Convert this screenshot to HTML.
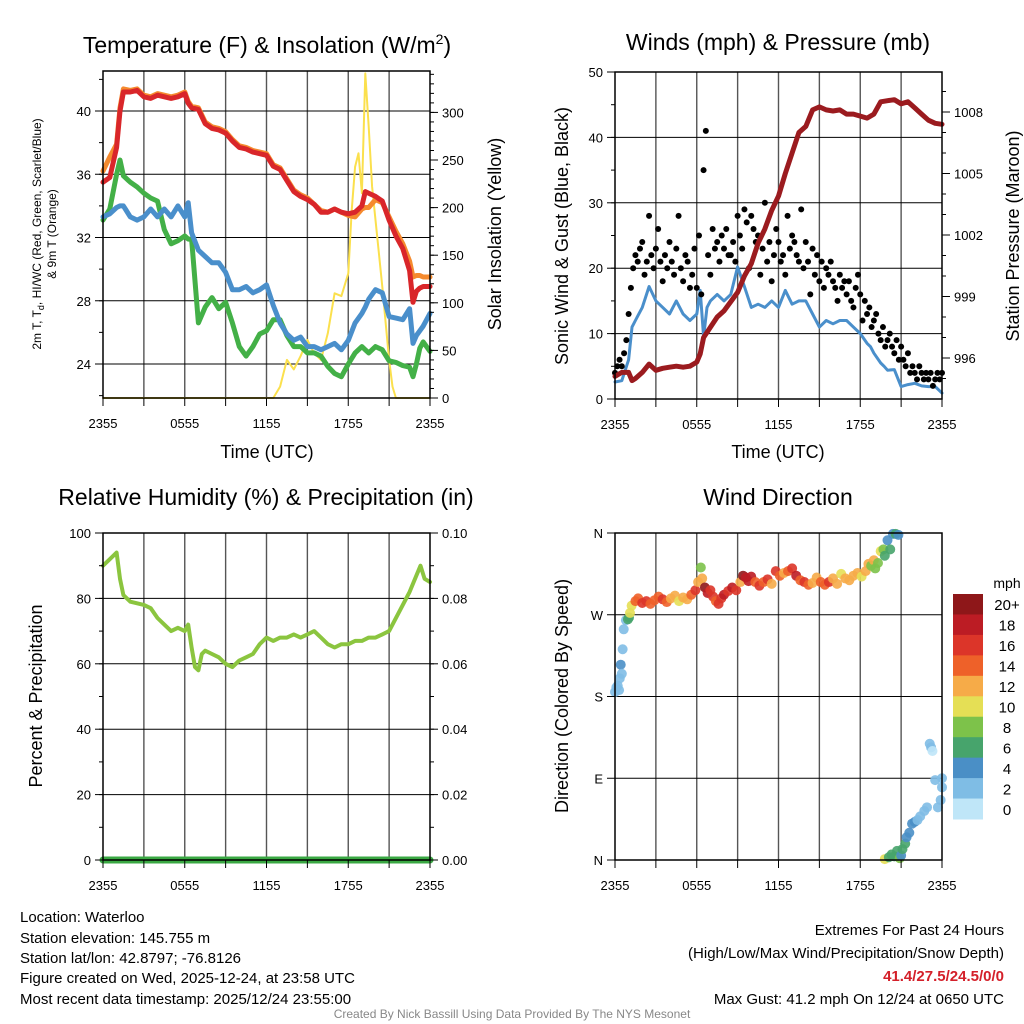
<!DOCTYPE html>
<html><head><meta charset="utf-8"><style>
html,body{margin:0;padding:0;background:#fff;}
svg{display:block;font-family:"Liberation Sans",sans-serif;}
</style></head><body>
<svg id="fig" width="1024" height="1024" viewBox="0 0 1024 1024" xmlns="http://www.w3.org/2000/svg">
<rect width="1024" height="1024" fill="#fff"/>
<g id="grids"></g>
<g id="marks"></g>
<g id="axes"></g>
<text x="267" y="53" font-size="23" text-anchor="middle">Temperature (F) &amp; Insolation (W/m<tspan font-size="14" dy="-9">2</tspan><tspan dy="9">)</tspan></text>
<text x="778" y="50" font-size="23" text-anchor="middle">Winds (mph) &amp; Pressure (mb)</text>
<text x="266" y="505" font-size="23" text-anchor="middle">Relative Humidity (%) &amp; Precipitation (in)</text>
<text x="778" y="505" font-size="23" text-anchor="middle">Wind Direction</text>
<text transform="translate(41,234) rotate(-90)" font-size="12" text-anchor="middle">2m T, T<tspan font-size="9" dy="3">d</tspan><tspan dy="-3">, HI/WC (Red, Green, Scarlet/Blue)</tspan></text>
<text transform="translate(56,234) rotate(-90)" font-size="12" text-anchor="middle">&amp; 9m T (Orange)</text>
<text transform="translate(501,234) rotate(-90)" font-size="18" text-anchor="middle">Solar Insolation (Yellow)</text>
<text x="267" y="458" font-size="18" text-anchor="middle">Time (UTC)</text>
<text transform="translate(568,236) rotate(-90)" font-size="18" text-anchor="middle">Sonic Wind &amp; Gust (Blue, Black)</text>
<text transform="translate(1019,236) rotate(-90)" font-size="18" text-anchor="middle">Station Pressure (Maroon)</text>
<text x="778" y="458" font-size="18" text-anchor="middle">Time (UTC)</text>
<text transform="translate(42,696) rotate(-90)" font-size="18" text-anchor="middle">Percent &amp; Precipitation</text>
<text transform="translate(568,696) rotate(-90)" font-size="18" text-anchor="middle">Direction (Colored By Speed)</text>
<text x="1007" y="588" font-size="14" text-anchor="middle">mph</text>
<g font-size="15">
<text x="20" y="922">Location: Waterloo</text>
<text x="20" y="943">Station elevation: 145.755 m</text>
<text x="20" y="963">Station lat/lon: 42.8797; -76.8126</text>
<text x="20" y="983">Figure created on Wed, 2025-12-24, at 23:58 UTC</text>
<text x="20" y="1004">Most recent data timestamp: 2025/12/24 23:55:00</text>
</g>
<g font-size="15" text-anchor="end">
<text x="1004" y="935">Extremes For Past 24 Hours</text>
<text x="1004" y="958">(High/Low/Max Wind/Precipitation/Snow Depth)</text>
<text x="1004" y="981" fill="#d4202a" font-weight="bold">41.4/27.5/24.5/0/0</text>
<text x="1004" y="1004">Max Gust: 41.2 mph On 12/24 at 0650 UTC</text>
</g>
<text x="512" y="1018" font-size="12" fill="#888" text-anchor="middle">Created By Nick Bassill Using Data Provided By The NYS Mesonet</text>
</svg>
<script>
// ---- data (hours since 2355 UTC) ----
const hrs = [0,0.5,1,1.25,1.5,2,2.5,3,3.5,4,4.5,5,5.5,6,6.25,6.5,7,7.5,8,8.5,9,9.5,10,10.5,11,11.5,12,12.5,13,13.5,14,14.5,15,15.5,16,16.5,17,17.5,18,18.5,19,19.25,19.5,20,20.5,21,21.5,22,22.5,22.75,23,23.25,23.5,24];
const tempRed = [35.5,35.8,37.7,40.0,41.2,41.2,41.3,40.9,40.8,41.0,40.9,40.8,40.9,41.1,40.5,40.2,40.1,39.2,38.9,38.8,38.6,38.1,37.7,37.6,37.4,37.3,37.2,36.5,36.3,35.6,34.9,34.6,34.4,34.1,33.6,33.6,33.8,33.6,33.5,33.6,34.0,34.9,34.8,34.6,34.3,33.1,32.1,31.3,29.9,27.9,28.6,28.8,28.9,28.9];
const tempOrange = [36.2,37.1,37.9,40.2,41.4,41.3,41.4,41.0,40.9,41.1,41.0,40.9,41.0,41.2,40.6,40.3,40.2,39.3,39.0,38.9,38.7,38.2,37.8,37.7,37.5,37.4,37.3,36.6,36.4,35.7,35.0,34.7,34.5,34.1,33.7,33.6,33.8,33.6,33.4,33.3,33.8,33.9,33.9,34.4,34.2,33.3,32.4,31.6,30.5,29.5,29.6,29.6,29.5,29.5];
const tempGreen = [33.1,33.8,36.0,36.9,35.9,35.5,35.2,34.8,34.5,34.3,32.5,31.6,31.8,32.1,31.9,31.9,26.6,27.6,28.2,27.5,27.9,26.6,25.1,24.5,25.1,25.9,26.1,26.8,26.8,25.8,25.1,25.1,24.7,24.7,24.5,23.85,23.4,23.2,24.0,24.7,25.1,24.9,24.7,25.1,24.9,24.2,24.1,23.9,23.8,23.2,24.0,25.0,25.4,24.8];
const tempBlue = [33.3,33.5,33.9,34.0,34.0,33.3,33.1,33.3,33.8,33.3,33.8,33.3,34.0,33.3,34.2,32.3,31.2,30.8,30.4,30.4,29.8,28.7,28.7,28.9,28.5,28.7,29.0,27.7,26.6,25.9,25.5,25.7,25.1,25.1,24.9,25.1,25.3,24.9,25.5,26.6,27.2,27.6,28.1,28.7,28.5,27.0,26.9,26.8,27.5,25.3,25.8,26.1,26.4,27.2];
const solarHrs = [0,12.5,13,13.5,14,14.5,15,15.5,16,16.5,17,17.5,18,18.25,18.5,18.75,19,19.25,19.5,19.75,20,20.5,21,21.25,21.5,24];
const solarW = [0,0,12,40,30,44,61,47,40,68,110,107,131,197,243,257,215,341,285,222,187,117,40,12,0,0];
const windSonic = [2.6,2.8,6,11,12,14,17.2,15,14,13,15,13,12,13,16.6,9.5,14,15,16,15,16,20.2,17.2,14,14.5,14,15,14,16.6,14.5,15,15,13,11,12,11.5,12,12,11,10,8.5,8,7,5.5,5,4.4,4.5,1.9,2.2,2.4,2.0,1.9,1.9,0.9];
const windHrs = [0,0.5,1,1.25,1.5,2,2.5,3,3.5,4,4.5,5,5.5,6,6.25,6.5,6.75,7,7.5,8,8.5,9,9.5,10,10.5,11,11.5,12,12.5,13,13.5,14,14.5,15,15.5,16,16.5,17,17.5,18,18.5,18.75,19,19.5,19.75,20,20.5,21,21.5,22,22.5,23,23.5,24];
const pressHrs = [0,0.5,1,1.25,1.5,2,2.5,3,3.5,4,4.5,5,5.5,6,6.25,6.5,7,7.5,8,8.5,9,9.5,10,10.5,11,11.5,12,12.5,13,13.5,14,14.5,15,15.5,16,16.5,17,17.5,18,18.5,19,19.5,20,20.5,21,21.5,22,22.5,23,23.5,24];
const pressMb = [995.1,995.3,995.3,994.9,995.0,995.3,995.7,995.4,995.5,995.55,995.6,995.55,995.6,995.8,996.2,997.0,997.5,998.0,998.3,998.75,999.2,1000.0,1000.6,1001.6,1002.3,1003.2,1003.9,1005.0,1006.0,1007.0,1007.3,1008.1,1008.25,1008.1,1008.05,1008.1,1007.9,1007.9,1007.8,1007.7,1007.9,1008.5,1008.55,1008.6,1008.4,1008.5,1008.2,1007.9,1007.6,1007.45,1007.4];
const gust = [4,5,6,5,7,9, 13,17,20,22,21,23, 24,19,21,28,22,20, 23,26,21,18,22,20, 24,21,19,23,28,20, 18,22,21,17,19,23, 17,25,16,35,41,22, 19,26,23,24,21,25, 23,26,22,22,24,21, 28,25,23,29,27,20, 28,26,24,25,19,23, 30,21,24,18,22,26, 24,21,22,19,28,23, 25,24,22,21,29,20, 24,21,16,23,19,22, 18,21,17,20,19,21, 18,17,15,19,17,18, 16,18,15,14,17,19, 16,12,15,13,14,11, 12,13,10,9,11,8, 9,10,8,7,9,6, 8,6,5,7,4,5, 4,3,5,4,3,4, 3,4,2,3,4,3, 4];
const rhHrs = [0,0.5,1,1.25,1.5,2,3,3.5,4,4.5,5,5.5,6,6.25,6.5,6.75,7,7.25,7.5,8,8.5,9,9.5,10,10.5,11,11.5,12,12.5,13,13.5,14,14.5,15,15.5,16,16.5,17,17.5,18,18.5,19,19.5,20,20.5,21,22,22.5,23,23.3,23.6,24];
const rhPct = [90,92,94,86,81,79,78,77,74,72,70,71,70,72,65,59,58,63,64,63,62,60,59,61,62,63,66,68,67,68,68,69,68,69,70,68,66,65,66,66,67,67,68,68,69,70,78,82,87,90,86,85];
const precipIn = [0,0,0,0,0];
const precipHrs = [0,6,12,18,24];
const dirHrs = [0.0,0.1,0.2,0.3,0.35,0.42,0.5,0.56,0.64,0.8,0.95,1.03,1.1,1.22,1.5,1.7,2.0,2.3,2.6,2.9,3.2,3.5,3.8,4.1,4.4,4.7,5.0,5.3,5.6,5.9,6.1,6.3,6.4,6.6,6.8,7.0,7.2,7.4,7.6,7.8,8.0,8.3,8.6,8.9,9.2,9.4,9.6,9.8,10.0,10.3,10.6,10.9,11.2,11.5,11.8,12.1,12.4,12.7,13.0,13.3,13.6,13.9,14.2,14.5,14.8,15.1,15.4,15.7,16.0,16.3,16.6,16.9,17.2,17.5,17.8,18.1,18.4,18.6,18.8,19.0,19.1,19.3,19.5,19.7,19.8,20.0,20.2,20.4,20.6,20.8,19.8,20.1,20.3,20.5,20.7,20.9,21.0,21.1,21.3,21.4,21.6,21.8,22.0,22.2,22.4,22.7,22.9,23.1,23.2,23.3,23.5,23.7,23.9,24.0,24.0];
const dirDeg = [185,190,192,187,200,215,205,232,254,264,265,267,272,280,285,288,283,285,282,286,290,287,284,288,291,285,289,287,292,297,306,322,310,300,294,297,290,285,282,288,292,296,300,297,306,313,311,307,312,306,302,306,309,304,318,313,316,318,321,313,308,306,303,305,311,306,303,306,310,304,315,310,308,313,316,312,318,326,324,330,321,327,340,342,335,352,342,359,359,358,1,3,6,4,10,2,5,12,18,25,30,40,42,44,48,54,58,128,124,120,88,58,66,80,90];
const dirSpd = [2,3,2,2,2,4,2,2,2,2,6,6,10,10,14,14,16,16,15,14,14,16,15,12,12,10,12,13,14,16,12,9,12,20,18,16,16,14,16,16,18,16,18,16,12,20,19,18,18,14,16,14,16,12,16,14,12,14,16,18,14,16,14,12,12,15,14,16,12,12,10,12,12,12,12,10,12,12,8,12,8,9,10,8,6,4,6,4,6,4,10,6,6,6,6,8,4,7,6,4,4,4,4,2,2,2,2,2,2,1,2,2,2,2,2];
const speedBins = ["0","2","4","6","8","10","12","14","16","18","20+"];
const binColors = ["#bfe6f8","#7fbde5","#4a8fc6","#47a46c","#7dc24a","#e5df55","#f6ab48","#ee6129","#dc3529","#bc1c24","#8e1719"];

// ---- helpers ----
const NS="http://www.w3.org/2000/svg";
const G=document.getElementById('grids'),M=document.getElementById('marks'),A=document.getElementById('axes');
function mk(tag,parent,attrs){const e=document.createElementNS(NS,tag);for(const k in attrs)e.setAttribute(k,attrs[k]);parent.appendChild(e);return e;}
const P={
 t:{x0:103,x1:430,y0:71,y1:398},
 w:{x0:615,x1:942,y0:72,y1:399},
 r:{x0:103,x1:430,y0:533,y1:860},
 d:{x0:615,x1:942,y0:533,y1:860}
};
function xs(p,h){return p.x0+(p.x1-p.x0)*h/24;}
function lin(p,lo,hi){return v=>p.y1-(p.y1-p.y0)*(v-lo)/(hi-lo);}
const yT=lin(P.t,21.85,42.53), yS=lin(P.t,0,343.5);
const yW=lin(P.w,0,50), yP=v=>112+(1008-v)*20.5;
const yR=lin(P.r,0,100), yPr=lin(P.r,0,0.1);
const yD=lin(P.d,0,360);
const xLabels=["2355","0555","1155","1755","2355"];

function frame(p,name){
 for(let i=1;i<8;i++){const x=xs(p,i*3);
  const l=mk('line',G,{x1:x,x2:x,y1:p.y0,y2:p.y1,stroke:'#555','stroke-width':1.4});
  
  }
 for(let i=0;i<=8;i++){const x=xs(p,i*3);
  const t=mk('line',A,{x1:x,x2:x,y1:p.y1,y2:p.y1+8,stroke:'#000'});
  
  
  if(i%2==0){const tx=mk('text',A,{x:x,y:p.y1+30,'font-size':13,'text-anchor':'middle'});tx.textContent=xLabels[i/2];
   
   }}
 const r=mk('rect',A,{x:p.x0,y:p.y0,width:p.x1-p.x0,height:p.y1-p.y0,fill:'none',stroke:'#000','stroke-width':1.5});
 
 
}
function yaxis(p,name,vals,labels,sc,side,minor,grid){
 const x=side<0?p.x0:p.x1;
 vals.forEach((v,i)=>{const y=sc(v);
  if(grid){const g=mk('line',G,{x1:p.x0,x2:p.x1,y1:y,y2:y,stroke:'#000','stroke-width':1});
   
   }
  mk('line',A,{x1:x,x2:x+side*8,y1:y,y2:y,stroke:'#000'});
  const t=mk('text',A,{x:x+side*12,y:y+5,'font-size':13,'text-anchor':side<0?'end':'start'});t.textContent=labels[i];
  
  });
 minor.forEach(v=>{const y=sc(v);mk('line',A,{x1:x,x2:x+side*4,y1:y,y2:y,stroke:'#000'});});
}
function path(p,hx,vals,sc,color,w,name){
 let d='';hx.forEach((h,i)=>{d+=(i?'L':'M')+xs(p,h).toFixed(1)+','+sc(vals[i]).toFixed(1);});
 const e=mk('path',M,{d:d,fill:'none',stroke:color,'stroke-width':w,'stroke-linejoin':'round','stroke-linecap':'round'});
 
 
 return e;
}
function range(a,b,s){const r=[];for(let v=a;v<=b+1e-9;v+=s)r.push(+v.toFixed(4));return r;}

// ---- panel 1 ----
frame(P.t,'temp');
yaxis(P.t,'temp-y',[24,28,32,36,40],["24","28","32","36","40"],yT,-1,range(22,42,2),true);
yaxis(P.t,'solar-y',[0,50,100,150,200,250,300],["0","50","100","150","200","250","300"],yS,1,range(0,340,10),false);
path(P.t,solarHrs,solarW,yS,'#fbe04d',2,'solar-line');
path(P.t,hrs,tempGreen,yT,'#43b047',5,'heat-index-line');
path(P.t,hrs,tempBlue,yT,'#4a8fcb',5,'dewpoint-line');
path(P.t,hrs,tempOrange,yT,'#f58a2e',5,'temp-9m-line');
path(P.t,hrs,tempRed,yT,'#d9262a',5,'temp-2m-line');

// ---- panel 2 ----
frame(P.w,'wind');
yaxis(P.w,'wind-y',[0,10,20,30,40,50],["0","10","20","30","40","50"],yW,-1,range(0,50,5),true);
yaxis(P.w,'pressure-y',[996,999,1002,1005,1008],["996","999","1002","1005","1008"],yP,1,range(995,1009,1),false);
path(P.w,windHrs,windSonic,yW,'#4a8fcb',3,'sonic-wind-line');
gust.forEach((g,i)=>{const c=mk('circle',M,{cx:xs(P.w,i/6),cy:yW(g),r:3,fill:'#000'});
 
 });
path(P.w,pressHrs,pressMb,yP,'#9b1b1f',5,'pressure-line');

// ---- panel 3 ----
frame(P.r,'rh');
yaxis(P.r,'rh-y',[0,20,40,60,80,100],["0","20","40","60","80","100"],yR,-1,range(0,100,10),true);
yaxis(P.r,'precip-y',[0,0.02,0.04,0.06,0.08,0.1],["0.00","0.02","0.04","0.06","0.08","0.10"],yPr,1,range(0,0.1,0.01),false);
path(P.r,rhHrs,rhPct,yR,'#8bc53f',4,'rh-line');
path(P.r,precipHrs,precipIn,yPr,'#3aa843',7,'precip-line');

// ---- panel 4 ----
frame(P.d,'dir');
yaxis(P.d,'dir-y',[0,90,180,270,360],["N","E","S","W","N"],yD,-1,[],true);
dirHrs.forEach((h,i)=>{const b=Math.min(10,Math.floor(dirSpd[i]/2));
 const c=mk('circle',M,{cx:xs(P.d,h),cy:yD(dirDeg[i]),r:5,fill:binColors[b],'fill-opacity':0.9});
 
 });
// colorbar
const cb={x:953,y:594,w:30,h:225};
for(let i=0;i<11;i++){const k=10-i;const bh=cb.h/11;
 const r=mk('rect',A,{x:cb.x,y:cb.y+i*bh,width:cb.w,height:bh+0.5,fill:binColors[k]});
 
 
 const t=mk('text',A,{x:1007,y:cb.y+i*bh+bh/2+6,'font-size':15,'text-anchor':'middle'});t.textContent=speedBins[k];
 
 }
</script>
</body></html>
